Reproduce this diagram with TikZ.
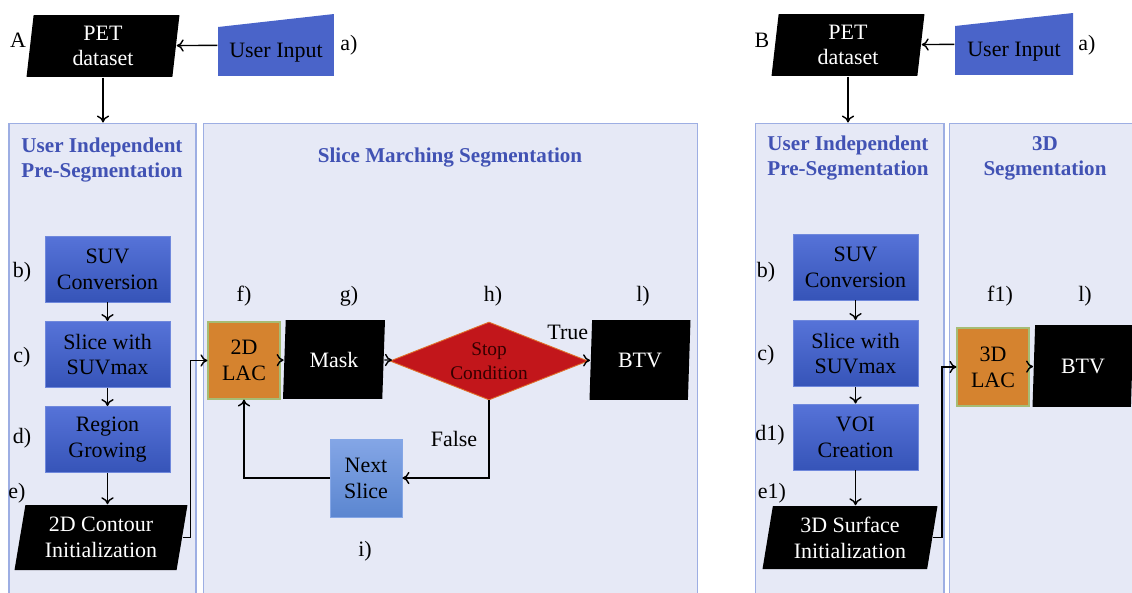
\documentclass[tikz,border=0pt]{standalone}
\usepackage{fontspec}
\setmainfont{Liberation Serif}
\usepackage{tikz}
\usetikzlibrary{shapes.geometric,arrows.meta,calc}

\definecolor{panelfill}{HTML}{E6E9F6}
\definecolor{paneldraw}{HTML}{9DAEE3}
\definecolor{titleblue}{HTML}{4152B4}
\definecolor{boxtop}{HTML}{5673D8}
\definecolor{boxbot}{HTML}{3654B8}
\definecolor{boxedge}{HTML}{6F88DC}
\definecolor{nexttop}{HTML}{84A6E6}
\definecolor{nextbot}{HTML}{5B86D0}
\definecolor{lacfill}{HTML}{D5832F}
\definecolor{lacedge}{HTML}{A6BC74}
\definecolor{stopred}{HTML}{C2161B}
\definecolor{stopedge}{HTML}{E0702A}
\definecolor{userblue}{HTML}{4A64C9}

\begin{document}
\begin{tikzpicture}[x=0.02cm, y=-0.02cm, line width=0.8pt, >={To[length=4pt,width=7pt]},
    every node/.style={font=\fontsize{12.5}{14.7}\selectfont, align=center}]
    \tikzstyle{panel}=[draw=paneldraw, fill=panelfill, line width=0.6pt, inner sep=0pt]
    \tikzstyle{title}=[text=titleblue, font=\fontsize{12}{14.2}\selectfont\bfseries]
    \tikzstyle{stepbox}=[rectangle, draw=boxedge, line width=0.5pt, top color=boxtop, bottom color=boxbot,
        minimum width=2.5cm, minimum height=1.32cm, inner sep=0pt]
    \tikzstyle{data}=[trapezium, trapezium left angle=80, trapezium right angle=100, trapezium stretches body,
        fill=black, text=white, inner sep=0pt]
    \tikzstyle{lac}=[rectangle, draw=lacedge, line width=0.6pt, fill=lacfill, minimum width=1.44cm,
        minimum height=1.54cm, inner sep=0pt]
    \tikzstyle{usrin}=[rectangle, minimum width=2.32cm, minimum height=1.24cm, inner sep=0pt, text height=17pt,
        path picture={\fill[userblue] (path picture bounding box.south west) -- (path picture bounding box.south east)
            -- (path picture bounding box.north east) -- ([yshift=-0.26cm]path picture bounding box.north west) -- cycle;}]
    \useasboundingbox (0,0) rectangle (1132,592);

    % panel A
    \node[panel, minimum width=3.74cm, minimum height=9.6cm] (preA) at (102.5,363) {};
    \node[panel, minimum width=9.9cm, minimum height=9.6cm] (sliceseg) at (450.5,363) {};
    \node[title] (tpreA) at (102,160) {User Independent\\Pre-Segmentation};
    \node[title] (tslice) at (450,158) {Slice Marching Segmentation};

    \node (labA) at (18,40) {A};
    \node[data, minimum width=3.06cm, minimum height=1.24cm] (petA) at (103,46) {PET\\dataset};
    \node[usrin] (userA) at (276,45) {User Input};
    \node (aA) at (349,45) {a)};

    \node[stepbox] (suvA) at (107.5,269) {SUV\\Conversion};
    \node[stepbox] (sliceA) at (107.5,354.5) {Slice with\\SUVmax};
    \node[stepbox] (regA) at (107.5,439.5) {Region\\Growing};
    \node[data, trapezium left angle=75, trapezium right angle=105, minimum width=3.46cm, minimum height=1.3cm]
        (contA) at (101,537.5) {2D Contour\\Initialization};
    \node (bA) at (22,272) {b)};
    \node (cA) at (22,357) {c)};
    \node (dA) at (22,438) {d)};
    \node (eA) at (17,493) {e)};

    \node[lac] (lacA) at (244,360.5) {2D\\LAC};
    \node[data, minimum width=2.04cm, minimum height=1.58cm] (mask) at (334,359.5) {Mask};
    \node[diamond, aspect=2.5, minimum width=3.96cm, minimum height=1.56cm, inner sep=0pt, fill=stopred,
        draw=stopedge, line width=0.5pt, font=\fontsize{11}{13.5}\selectfont, text=black!80!red] (stop) at (489,361) {Stop\\Condition};
    \node[data, minimum width=2.02cm, minimum height=1.6cm] (btvA) at (640,360) {BTV};
    \node[rectangle, draw=nexttop, line width=0.5pt, top color=nexttop, bottom color=nextbot, minimum width=1.44cm,
        minimum height=1.56cm, inner sep=0pt] (next) at (366,478) {Next\\Slice};
    \node (fA) at (244,296) {f)};
    \node (gA) at (349,296) {g)};
    \node (hA) at (493,296) {h)};
    \node (lA) at (643,296) {l)};
    \node (iA) at (365,551) {i)};

    \draw[->] (userA) -- (petA);
    \draw[->] (petA.south) -- (petA.south |- preA.north);
    \draw[->] (suvA) -- (sliceA);
    \draw[->] (sliceA) -- (regA);
    \draw[->] (regA.south) -- (regA.south |- contA.north);
    \draw[->] (contA.east) -- ++(8,0) |- (lacA.west);
    \draw[->] (lacA) -- (mask);
    \draw[->] (mask) -- (stop);
    \draw[->] (stop) -- node[pos=0, xshift=-0.38cm, yshift=0.56cm] {True} (btvA);
    \draw[->] (stop.south) |- node[pos=0.25, left, xshift=-3pt] {False} (next.east);
    \draw[->] (next.west) -| (lacA.south);

    % panel B
    \node[panel, minimum width=3.78cm, minimum height=9.6cm] (preB) at (849.5,363) {};
    \node[panel, minimum width=3.82cm, minimum height=9.6cm] (segB) at (1044.5,363) {};
    \node[title] (tpreB) at (848,158) {User Independent\\Pre-Segmentation};
    \node[title] (tsegB) at (1045,158) {3D\\Segmentation};

    \node (labB) at (762,40) {B};
    \node[data, minimum width=3.06cm, minimum height=1.24cm] (petB) at (848,45) {PET\\dataset};
    \node[usrin, minimum width=2.36cm] (userB) at (1014,44) {User Input};
    \node (aB) at (1087,45) {a)};

    \node[stepbox] (suvB) at (855.5,267) {SUV\\Conversion};
    \node[stepbox] (sliceB) at (855.5,353.5) {Slice with\\SUVmax};
    \node[stepbox] (voiB) at (855.5,437) {VOI\\Creation};
    \node[data, trapezium left angle=76, trapezium right angle=104, minimum width=3.5cm, minimum height=1.26cm]
        (surfB) at (850,537.5) {3D Surface\\Initialization};
    \node (bB) at (766,272) {b)};
    \node (cB) at (766,355) {c)};
    \node (dB) at (770,435) {d1)};
    \node (eB) at (772,493) {e1)};

    \node[lac, minimum height=1.56cm] (lacB) at (993,367) {3D\\LAC};
    \node[data, minimum width=2.02cm, minimum height=1.64cm] (btvB) at (1083,366) {BTV};
    \node (fB) at (1000,296) {f1)};
    \node (lB) at (1085,296) {l)};

    \draw[->] (userB) -- (petB);
    \draw[->] (petB.south) -- (petB.south |- preB.north);
    \draw[->] (suvB) -- (sliceB);
    \draw[->] (sliceB) -- (voiB);
    \draw[->] (voiB.south) -- (voiB.south |- surfB.north);
    \draw[->] (surfB.east) -- ++(9,0) |- (lacB.west);
    \draw[->] (lacB) -- (btvB);
\end{tikzpicture}
\end{document}
